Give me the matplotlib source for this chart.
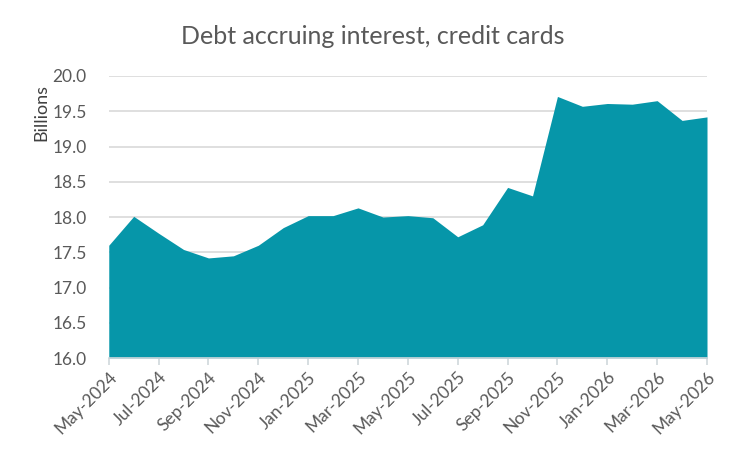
import matplotlib
matplotlib.use("Agg")
import matplotlib.pyplot as plt

plt.rcParams["font.family"] = ["Lato", "DejaVu Sans"]

# monthly values, May-2024 .. May-2026
months = ["May-2024", "Jun-2024", "Jul-2024", "Aug-2024", "Sep-2024", "Oct-2024",
          "Nov-2024", "Dec-2024", "Jan-2025", "Feb-2025", "Mar-2025", "Apr-2025",
          "May-2025", "Jun-2025", "Jul-2025", "Aug-2025", "Sep-2025", "Oct-2025",
          "Nov-2025", "Dec-2025", "Jan-2026", "Feb-2026", "Mar-2026", "Apr-2026",
          "May-2026"]
debt = [17.60, 18.01, 17.77, 17.54, 17.42, 17.45, 17.60, 17.85, 18.02, 18.02,
        18.13, 18.00, 18.02, 17.99, 17.72, 17.89, 18.42, 18.30, 19.71, 19.57,
        19.61, 19.60, 19.65, 19.37, 19.42]

gray = "#595959"
teal = "#0696A9"

fig = plt.figure(figsize=(7.45, 4.55), dpi=100)
ax = fig.add_axes([0.146, 0.213, 0.803, 0.62])

x = list(range(len(months)))
ax.fill_between(x, 16.0, debt, color=teal, linewidth=0, zorder=2)

ax.set_xlim(0, len(months) - 1)
ax.set_ylim(16.0, 20.0)
ax.set_yticks([16.0 + 0.5 * i for i in range(9)])
ax.set_yticklabels([f"{16.0 + 0.5 * i:.1f}" for i in range(9)])
ax.set_xticks(x[::2])
ax.set_xticklabels(months[::2], rotation=45, ha="right", rotation_mode="anchor")

ax.grid(axis="y", color="#d9d9d9", linewidth=1.2, zorder=0)
for s in ["top", "right", "left"]:
    ax.spines[s].set_visible(False)
ax.spines["bottom"].set_color("#d0d8dc")
ax.spines["bottom"].set_linewidth(1.2)
ax.spines["bottom"].set_zorder(3)

ax.tick_params(axis="y", length=0, labelsize=12.5, labelcolor=gray, pad=16)
ax.tick_params(axis="x", length=5, color="#d0d8dc", width=1.2, labelsize=12.5,
               labelcolor=gray, pad=3)

ax.set_ylabel("Billions", fontsize=13, color="#404040")
ax.yaxis.set_label_coords(-0.1, 0.87)

fig.suptitle("Debt accruing interest, credit cards", fontsize=18, color=gray,
             x=0.5, y=0.945)

fig.savefig("out.png", dpi=100)
